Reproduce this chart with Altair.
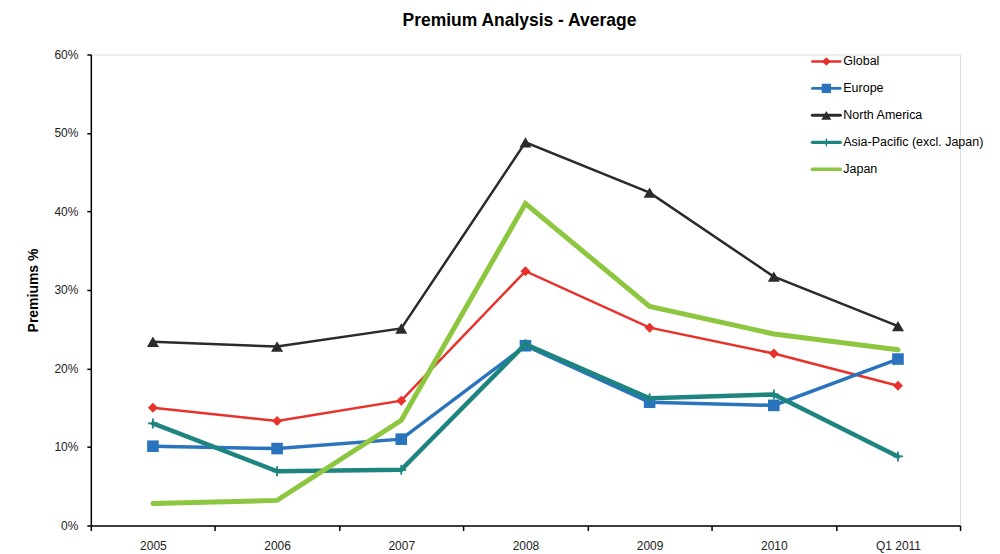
import altair as alt
import pandas as pd

periods = ["2005", "2006", "2007", "2008", "2009", "2010", "Q1 2011"]
series = ["Global", "Europe", "North America", "Asia-Pacific (excl. Japan)", "Japan"]

global_vals = [15.0, 13.3, 15.9, 32.4, 25.2, 21.9, 17.8]
europe_vals = [10.1, 9.8, 11.0, 22.9, 15.7, 15.3, 21.2]
north_america_vals = [23.4, 22.8, 25.1, 48.8, 42.4, 31.7, 25.4]
asia_pacific_vals = [13.0, 6.9, 7.1, 23.1, 16.2, 16.7, 8.8]
japan_vals = [2.8, 3.2, 13.4, 41.0, 27.9, 24.4, 22.4]

values = [global_vals, europe_vals, north_america_vals, asia_pacific_vals, japan_vals]
colors = ["#E8312B", "#2A74BE", "#2B2B2B", "#1E8480", "#8DC63F"]
widths = [2.5, 3.5, 2.5, 4.5, 5.0]
cross_path = "M-1,0H1M0,-1V1"
markers = ["diamond", "square", "triangle-up", cross_path, None]
marker_sizes = [100, 135, 145, 100, 0]

FONT = "Liberation Sans"

rows = []
for s, vals in zip(series, values):
    for p, v in zip(periods, vals):
        rows.append({"series": s, "period": p, "value": v / 100.0})
df = pd.DataFrame(rows)

x_enc = alt.X(
    "period:N",
    bandPosition=0.5,
    scale=alt.Scale(type="band", domain=periods, paddingInner=0, paddingOuter=0),
    axis=alt.Axis(
        title=None, labelAngle=0, tickBand="extent", tickSize=5, labelPadding=10,
        domainColor="black", tickColor="black", domainWidth=1.5, tickWidth=1.5,
        labelFont=FONT, labelFontSize=12, labelColor="#222",
    ),
)
y_enc = alt.Y(
    "value:Q",
    scale=alt.Scale(domain=[0, 0.6], nice=False),
    axis=alt.Axis(
        title="Premiums %", format=".0%", values=[0, 0.1, 0.2, 0.3, 0.4, 0.5, 0.6],
        grid=False, tickSize=4, labelPadding=9, titlePadding=13,
        domainColor="black", tickColor="black", domainWidth=1.5, tickWidth=1.5,
        labelFont=FONT, labelFontSize=12, labelColor="#222",
        titleFont=FONT, titleFontSize=14, titleFontWeight="bold", titleColor="black",
    ),
)

layers = []
for i, s in enumerate(series):
    sd = df[df["series"] == s]
    base = alt.Chart(sd)
    line = base.mark_line(
        color=colors[i], strokeWidth=widths[i], strokeCap="round", strokeJoin="miter"
    ).encode(x=x_enc, y=y_enc)
    layers.append(line)
    if markers[i] is not None:
        if markers[i] == cross_path:
            pt = base.mark_point(
                shape=cross_path, filled=False, color=colors[i], size=marker_sizes[i],
                strokeWidth=1.8, opacity=1,
            ).encode(x=x_enc, y=y_enc)
        else:
            pt = base.mark_point(
                shape=markers[i], filled=True, color=colors[i], size=marker_sizes[i], opacity=1,
            ).encode(x=x_enc, y=y_enc)
        layers.append(pt)

main = alt.layer(*layers)

# legend drawn in the top right of the plot
leg_df = pd.DataFrame({"series": series})
leg_y = alt.Y(
    "series:N",
    scale=alt.Scale(type="point", domain=series, range=[7, 115], padding=0),
    axis=None,
)
leg_color = alt.Color("series:N", scale=alt.Scale(domain=series, range=colors), legend=None)
leg_base = alt.Chart(leg_df)
leg_lines = leg_base.mark_rule(strokeCap="round").encode(
    x=alt.value(723), x2=alt.value(751), y=leg_y, color=leg_color,
    strokeWidth=alt.StrokeWidth("series:N", scale=alt.Scale(domain=series, range=widths), legend=None),
)
leg_marks = leg_base.transform_filter(
    alt.FieldOneOfPredicate(field="series", oneOf=series[:3])
).mark_point(filled=True, opacity=1).encode(
    x=alt.value(737), y=leg_y, color=leg_color,
    shape=alt.Shape("series:N", scale=alt.Scale(domain=series[:3], range=markers[:3]), legend=None),
    size=alt.Size("series:N", scale=alt.Scale(domain=series[:3], range=[75, 100, 100]), legend=None),
)
leg_cross = leg_base.transform_filter(
    alt.FieldEqualPredicate(field="series", equal=series[3])
).mark_point(shape=cross_path, filled=False, size=60, strokeWidth=1.5, opacity=1).encode(
    x=alt.value(737), y=leg_y, color=leg_color,
)
leg_text = leg_base.mark_text(
    align="left", baseline="middle", font=FONT, fontSize=12.5, color="black"
).encode(x=alt.value(754), y=leg_y, text="series:N")

legend = alt.layer(leg_lines, leg_marks, leg_cross, leg_text)

chart = alt.layer(main, legend).resolve_scale(
    y="independent", color="independent", shape="independent", size="independent",
    strokeWidth="independent",
).properties(
    width=871,
    height=472,
    title=alt.Title(
        "Premium Analysis - Average", font=FONT, fontSize=17.5, fontWeight="bold",
        color="black", anchor="middle", offset=19, dx=-6,
    ),
    padding={"left": 18, "top": 3, "right": 8, "bottom": 5},
).configure_view(stroke=None).configure(background="white")

chart.save("out.html", embed_options={"renderer": "svg", "actions": False})
